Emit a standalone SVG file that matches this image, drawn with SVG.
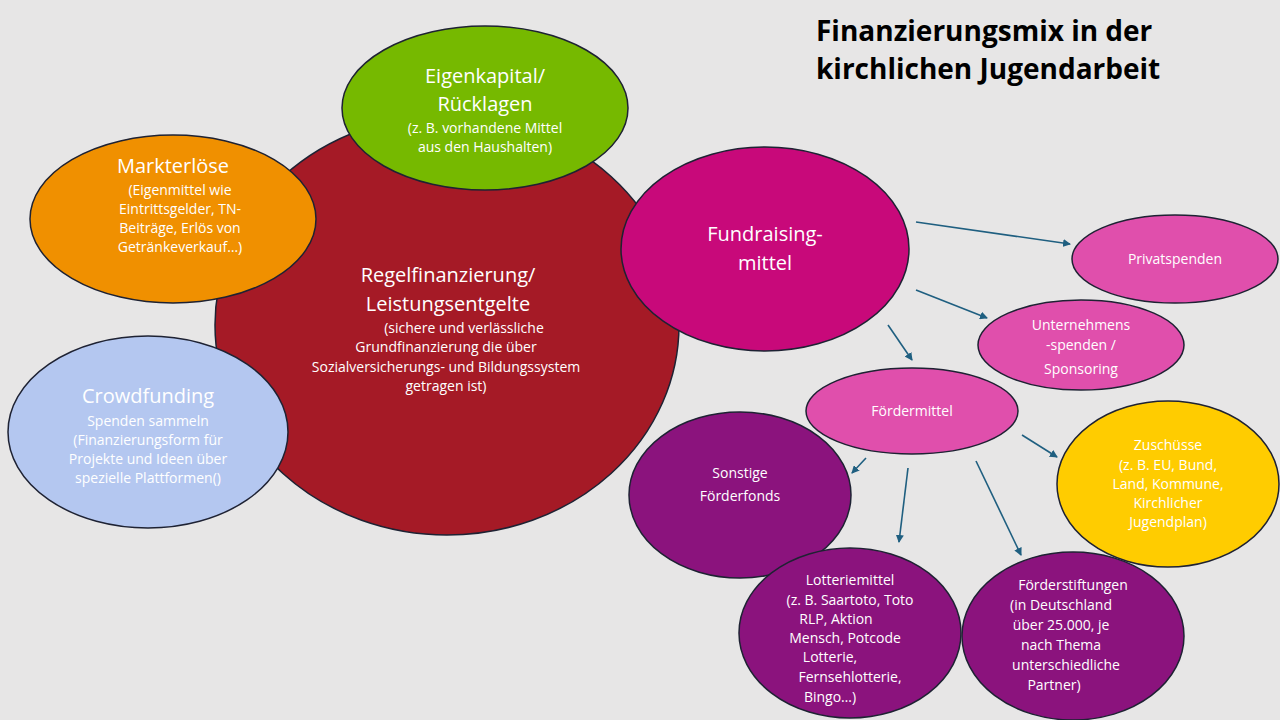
<svg xmlns="http://www.w3.org/2000/svg" width="1280" height="720" viewBox="0 0 1280 720">
<defs>
<style>
.n{stroke:#1e2233;stroke-width:1.5}
.t{font-family:"Open Sans","Liberation Sans",sans-serif;fill:#fff;text-anchor:middle}
.b{font-size:20px}
.s{font-size:14px}
.c{stroke:#1f5f80;stroke-width:1.6;fill:none;marker-end:url(#a)}
</style>
<marker id="a" markerWidth="8" markerHeight="8" refX="7" refY="4" orient="auto" markerUnits="userSpaceOnUse"><path d="M0,0L8,4L0,8z" fill="#1f5f80"/></marker>
</defs>
<rect width="1280" height="720" fill="#e7e6e6"/>
<g id="title" font-family="Open Sans,Liberation Sans,sans-serif" font-weight="bold" font-size="28" fill="#000"><text x="816" y="41">Finanzierungsmix in der</text><text x="816" y="79">kirchlichen Jugendarbeit</text></g>
<g id="regel"><ellipse class="n" cx="447" cy="325" rx="232" ry="210" fill="#a51a26"/>
<text class="t b" x="448" y="282">Regelfinanzierung/</text><text class="t b" x="448" y="311">Leistungsentgelte</text>
<text class="t s" x="464" y="333">(sichere und verlässliche</text><text class="t s" x="446" y="352">Grundfinanzierung die  über</text><text class="t s" x="446" y="372">Sozialversicherungs- und Bildungssystem</text><text class="t s" x="446" y="391">getragen ist)</text></g>
<g id="eigen"><ellipse class="n" cx="485" cy="108" rx="143" ry="82" fill="#76b900"/>
<text class="t b" x="485" y="83">Eigenkapital/</text><text class="t b" x="485" y="111">Rücklagen</text><text class="t s" x="485" y="133">(z. B. vorhandene Mittel</text><text class="t s" x="485" y="152">aus den Haushalten)</text></g>
<g id="markt"><ellipse class="n" cx="173" cy="219" rx="143" ry="84" fill="#f09000"/>
<text class="t b" x="173" y="173">Markterlöse</text><text class="t s" x="180" y="195">(Eigenmittel wie</text><text class="t s" x="180" y="214">Eintrittsgelder, TN-</text><text class="t s" x="180" y="233">Beiträge, Erlös von</text><text class="t s" x="180" y="252">Getränkeverkauf…)</text></g>
<g id="crowd"><ellipse class="n" cx="148" cy="432" rx="140" ry="96" fill="#b4c7f0"/>
<text class="t b" x="148" y="403">Crowdfunding</text><text class="t s" x="148" y="426">Spenden sammeln</text><text class="t s" x="148" y="445">(Finanzierungsform für</text><text class="t s" x="148" y="464">Projekte und Ideen über</text><text class="t s" x="148" y="483">spezielle Plattformen()</text></g>
<g id="fund"><ellipse class="n" cx="765" cy="249" rx="144" ry="102" fill="#c8097a"/>
<text class="t b" x="765" y="241">Fundraising-</text><text class="t b" x="765" y="270">mittel</text></g>
<g id="privat"><ellipse class="n" cx="1175" cy="259" rx="103" ry="44" fill="#e04fac"/><text class="t s" x="1175" y="264">Privatspenden</text></g>
<g id="untern"><ellipse class="n" cx="1081" cy="345" rx="103" ry="45" fill="#e04fac"/>
<text class="t s" x="1081" y="330">Unternehmens</text><text class="t s" x="1081" y="350">-spenden /</text><text class="t s" x="1081" y="374">Sponsoring</text></g>
<g id="foerder"><ellipse class="n" cx="912" cy="411" rx="106" ry="43" fill="#e04fac"/><text class="t s" x="912" y="416">Fördermittel</text></g>
<g id="zusch"><ellipse class="n" cx="1168" cy="484" rx="111" ry="83" fill="#ffcc00"/>
<text class="t s" x="1168" y="450">Zuschüsse</text><text class="t s" x="1168" y="470" font-size="13">(z. B. EU, Bund,</text><text class="t s" x="1168" y="489">Land, Kommune,</text><text class="t s" x="1168" y="508">Kirchlicher</text><text class="t s" x="1168" y="527">Jugendplan)</text></g>
<g id="sonst"><ellipse class="n" cx="740" cy="495" rx="111" ry="83" fill="#8b137d"/>
<text class="t s" x="740" y="478">Sonstige</text><text class="t s" x="740" y="501">Förderfonds</text></g>
<g id="lotto"><ellipse class="n" cx="850" cy="633" rx="111" ry="85" fill="#8b137d"/>
<text class="t s" x="850" y="585">Lotteriemittel</text><text class="t s" x="850" y="605">(z. B. Saartoto, Toto</text><text class="t s" x="836" y="624">RLP, Aktion</text><text class="t s" x="845" y="643">Mensch, Potcode</text><text class="t s" x="830" y="662">Lotterie,</text><text class="t s" x="850" y="682">Fernsehlotterie,</text><text class="t s" x="830" y="702">Bingo…)</text></g>
<g id="stift"><ellipse class="n" cx="1073" cy="636" rx="111" ry="84" fill="#8b137d"/>
<text class="t s" x="1073" y="590">Förderstiftungen</text><text class="t s" x="1061" y="610">(in Deutschland</text><text class="t s" x="1061" y="630">über 25.000, je</text><text class="t s" x="1061" y="650">nach Thema</text><text class="t s" x="1066" y="670">unterschiedliche</text><text class="t s" x="1054" y="690">Partner)</text></g>
<g id="connectors">
<line class="c" x1="916" y1="222" x2="1070" y2="244"/>
<line class="c" x1="916" y1="290" x2="987" y2="318"/>
<line class="c" x1="888" y1="325" x2="912" y2="360"/>
<line class="c" x1="1022" y1="435" x2="1057" y2="457"/>
<line class="c" x1="866" y1="458" x2="852" y2="473"/>
<line class="c" x1="908" y1="468" x2="899" y2="542"/>
<line class="c" x1="976" y1="461" x2="1021" y2="555"/>
</g>
</svg>
